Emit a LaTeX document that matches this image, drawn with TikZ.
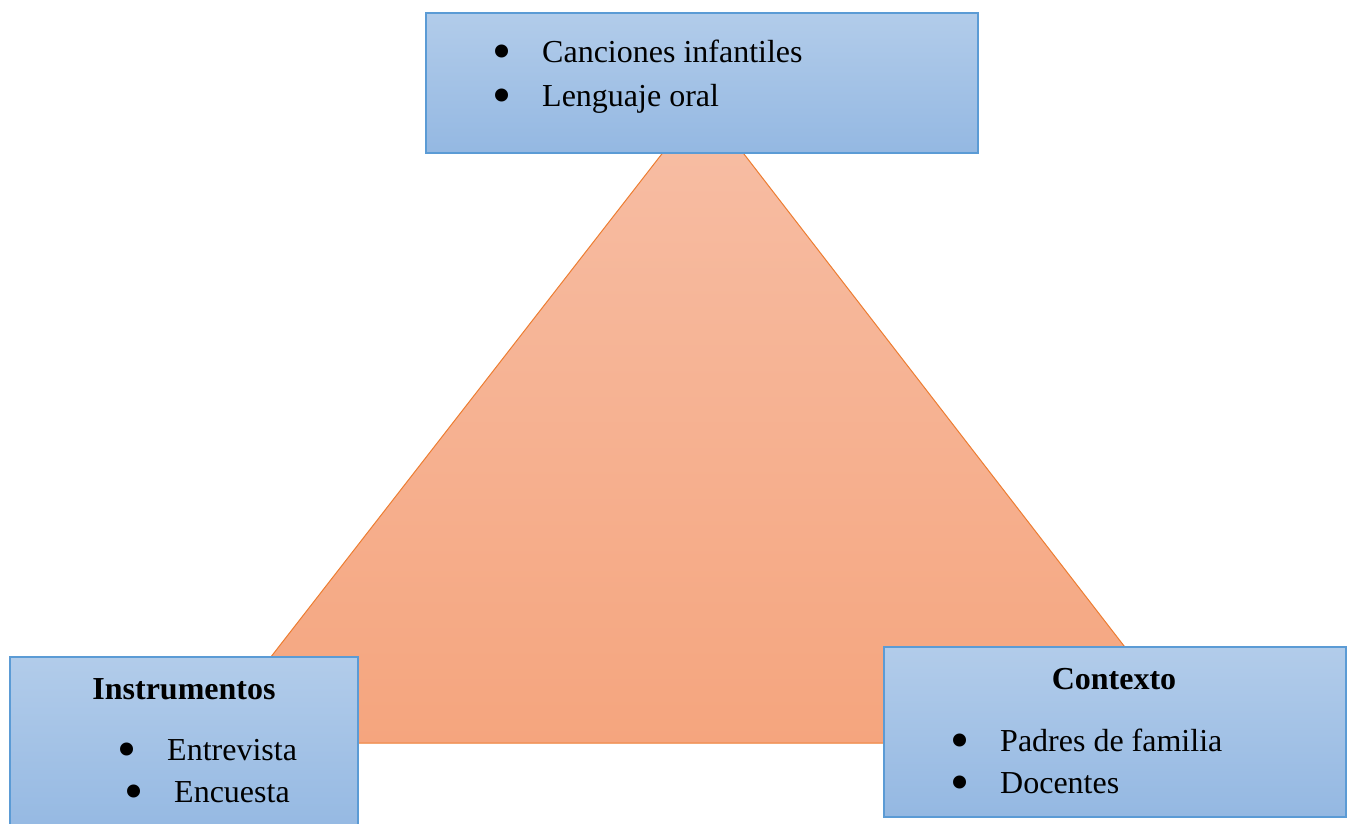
\documentclass[tikz,border=0pt]{standalone}
\usepackage{fontspec}
\setmainfont{Liberation Serif}
\usepackage{tikz}

\definecolor{boxline}{HTML}{5B9BD5}
\definecolor{boxtop}{HTML}{B2CCEA}
\definecolor{boxbot}{HTML}{94B8E2}
\definecolor{triline}{HTML}{ED7D31}
\definecolor{tritop}{HTML}{F7BEA5}
\definecolor{tribot}{HTML}{F5A57E}

\newcommand{\bulletitem}[1]{\makebox[50pt][l]{\raisebox{-7.5pt}[0pt][0pt]{\scalebox{1.7}{\textbullet}}}#1}

\begin{document}
\begin{tikzpicture}[x = 1pt, y = -1pt,
        font = \fontsize{32}{38}\selectfont,
        box/.style = {rectangle, draw = boxline, line width = 1.2pt,
                      top color = boxtop, bottom color = boxbot, inner sep = 0pt},
        item/.style = {anchor = base west, inner sep = 0pt},
        head/.style = {anchor = base, inner sep = 0pt, font = \fontsize{32}{38}\selectfont\bfseries}]
        \useasboundingbox (0,0) rectangle (1348,823);
        \clip (0,0) rectangle (1348,823);
        % triangle behind the boxes
        \coordinate (apex) at (703,101);
        \coordinate (bl) at (204,743);
        \coordinate (br) at (1199,743);
        \draw[draw = triline, line width = 1pt, top color = tritop, bottom color = tribot]
              (apex) -- (bl) -- (br) -- cycle;
        % boxes
        \node[box, minimum width = 552pt, minimum height = 140pt] (temas) at (702,83) {};
        \node[box, minimum width = 348pt, minimum height = 180pt] (instr) at (184,747) {};
        \node[box, minimum width = 462pt, minimum height = 170pt] (ctx) at (1115,732) {};
        % texts
        \node[item] (canciones) at (492,62) {\bulletitem{Canciones infantiles}};
        \node[item] (lenguaje) at (492,106) {\bulletitem{Lenguaje oral}};
        \node[head] (instrhead) at (184,699) {Instrumentos};
        \node[item] (entrevista) at (117,760) {\bulletitem{Entrevista}};
        \node[item] (encuesta) at (124,802) {\bulletitem{Encuesta}};
        \node[head] (ctxhead) at (1114,689) {Contexto};
        \node[item] (padres) at (950,751) {\bulletitem{Padres de familia}};
        \node[item] (docentes) at (950,793) {\bulletitem{Docentes}};
      \end{tikzpicture}
\end{document}
